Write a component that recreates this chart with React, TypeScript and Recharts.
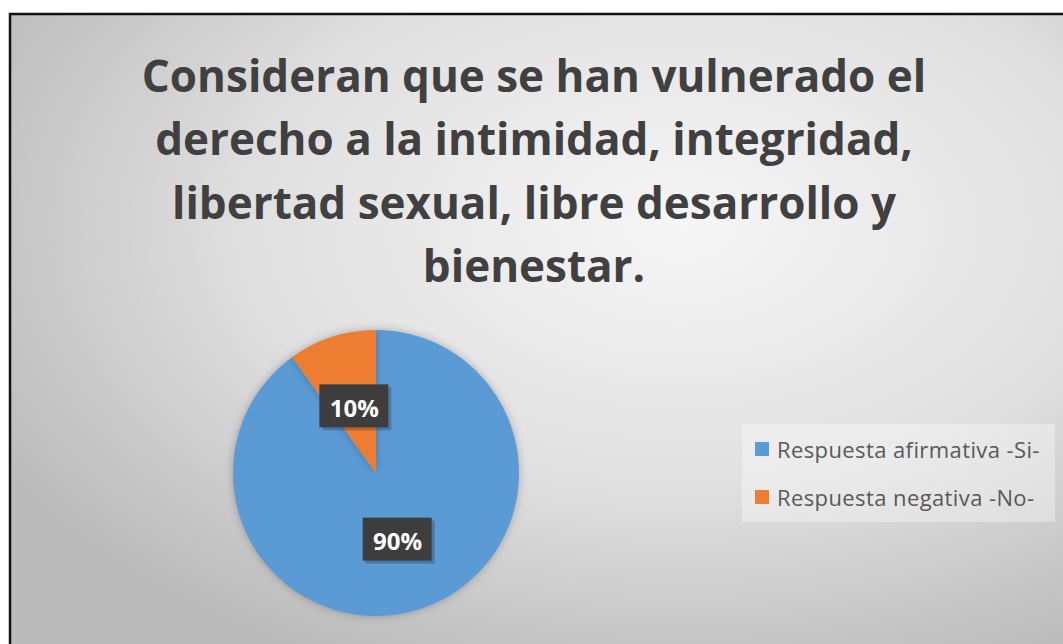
import { PieChart, Pie, Cell, Legend } from "recharts";

const categories = ["Respuesta afirmativa -Si-", "Respuesta negativa -No-"];
const values = [90, 10];
const colors = ["#5B9BD5", "#ED7D31"];
const titleLines = [
  "Consideran que se han vulnerado el",
  "derecho a la intimidad, integridad,",
  "libertad sexual, libre desarrollo y",
  "bienestar.",
];

const data = categories.map((name, i) => ({ name, value: values[i] }));

const W = 1063;
const H = 644;
const RADIAN = Math.PI / 180;

function PctLabel(props: any) {
  const { cx, cy, midAngle, outerRadius, value } = props;
  const r = outerRadius * 0.49;
  const x = cx + r * Math.cos(-midAngle * RADIAN);
  const y = cy + r * Math.sin(-midAngle * RADIAN);
  return (
    <g>
      <rect x={x - 32} y={y - 19} width={69} height={43} fill="rgba(0,0,0,0.22)" />
      <rect x={x - 35} y={y - 22} width={69} height={43} fill="#3d3d3d" />
      <text
        x={x}
        y={y + 1}
        textAnchor="middle"
        dominantBaseline="central"
        fill="#ffffff"
        fontFamily="'Open Sans', sans-serif"
        fontWeight={700}
        fontSize={24}
      >
        {`${value}%`}
      </text>
    </g>
  );
}

function LegendBox() {
  return (
    <div
      style={{
        width: 313,
        height: 98,
        background: "rgba(255,255,255,0.35)",
        boxSizing: "border-box",
        paddingLeft: 13,
        paddingTop: 10,
        fontFamily: "'Open Sans', sans-serif",
        fontSize: 22,
        letterSpacing: 0.4,
        color: "#595959",
      }}
    >
      {data.map((d, i) => (
        <div
          key={d.name}
          style={{ display: "flex", alignItems: "center", height: 29, marginBottom: i === 0 ? 19 : 0 }}
        >
          <span
            style={{ width: 14, height: 14, background: colors[i], marginRight: 8, display: "inline-block", flex: "none" }}
          />
          <span style={{ whiteSpace: "nowrap" }}>{d.name}</span>
        </div>
      ))}
    </div>
  );
}

export default function App() {
  return (
    <div style={{ position: "absolute", left: 0, top: 0, width: W, height: H, background: "#ffffff" }}>
      <svg width={W} height={H} style={{ position: "absolute", left: 0, top: 0 }}>
        <defs>
          <radialGradient id="bg" cx="62%" cy="32%" r="72%">
            <stop offset="0%" stopColor="#f6f6f6" />
            <stop offset="55%" stopColor="#e0e0e0" />
            <stop offset="100%" stopColor="#bbbbbb" />
          </radialGradient>
        </defs>
        <rect x={10} y={14} width={W + 20} height={H + 20} fill="url(#bg)" stroke="#111" strokeWidth={2.5} />
        {titleLines.map((t, i) => (
          <text
            key={t}
            x={534}
            y={92 + i * 63.3}
            textAnchor="middle"
            fill="#404040"
            fontFamily="'Open Sans', sans-serif"
            fontWeight={700}
            fontSize={44}
          >
            {t}
          </text>
        ))}
      </svg>
      <div style={{ position: "absolute", left: 0, top: 0 }}>
        <PieChart width={W} height={H} margin={{ top: 0, right: 0, bottom: 0, left: 0 }}>
          <Pie
            data={data}
            dataKey="value"
            nameKey="name"
            cx={376}
            cy={473}
            outerRadius={143}
            startAngle={90}
            endAngle={-270}
            stroke="none"
            labelLine={false}
            label={PctLabel}
            isAnimationActive={false}
          >
            {data.map((d, i) => (
              <Cell
                key={d.name}
                fill={colors[i]}
                style={{ filter: "drop-shadow(0 0 4px rgba(0,0,0,0.25))" }}
              />
            ))}
          </Pie>
          <Legend
            content={<LegendBox />}
            layout="vertical"
            wrapperStyle={{ position: "absolute", left: 742, top: 424, width: 313 }}
          />
        </PieChart>
      </div>
    </div>
  );
}
